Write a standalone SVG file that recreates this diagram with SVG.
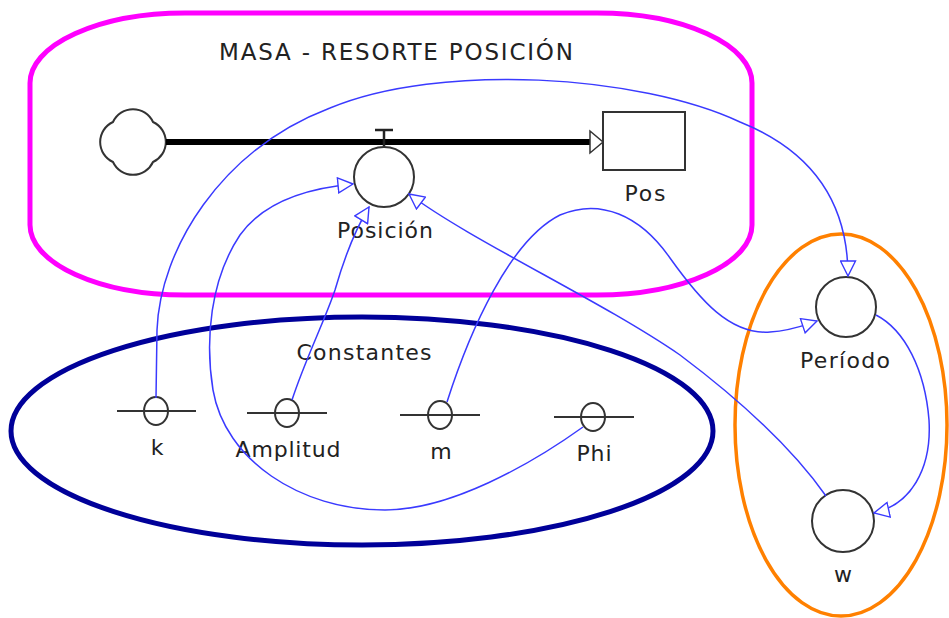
<svg xmlns="http://www.w3.org/2000/svg" width="949" height="618" viewBox="0 0 949 618">
<style>
.lbl{font-family:"DejaVu Sans","Liberation Sans",sans-serif;font-size:22px;fill:#222;text-anchor:middle}
.node{fill:#fff;stroke:#333;stroke-width:2}
.cst{fill:none;stroke:#333;stroke-width:2}
.link{fill:none;stroke:#3a3aff;stroke-width:1.5;marker-end:url(#arr)}
</style>
<defs>
<marker id="arr" markerUnits="userSpaceOnUse" markerWidth="17" markerHeight="17" viewBox="-1 -1 17 17" refX="15" refY="7.5" orient="auto">
<path d="M0,0 L15,7.5 L0,15 Z" fill="#fff" stroke="#3a3aff" stroke-width="1.4"/>
</marker>
</defs>
<g id="group-masa">
<rect x="30" y="13" width="722" height="282" rx="155" ry="70" fill="none" stroke="#ff00ff" stroke-width="5"/>
<text class="lbl" x="396" y="60" style="font-size:23px" textLength="354" lengthAdjust="spacing">MASA - RESORTE POSICIÓN</text>
</g>
<g id="group-constantes">
<ellipse cx="362" cy="431" rx="351" ry="114" fill="none" stroke="#000099" stroke-width="5"/>
<text class="lbl" x="364" y="360" textLength="135" lengthAdjust="spacing">Constantes</text>
</g>
<g id="group-periodo">
<ellipse cx="841" cy="425" rx="106" ry="191" fill="none" stroke="#ff8000" stroke-width="3.5"/>
</g>
<g id="cloud">
<path d="M113,122 A22,22 0 0 1 153,122 A22,22 0 0 1 153,162 A22,22 0 0 1 113,162 A22,22 0 0 1 113,122 Z" fill="#fff" stroke="#333" stroke-width="2"/>
</g>
<g id="flow-posicion">
<line x1="166" y1="142" x2="590" y2="142" stroke="#000" stroke-width="6"/>
<path d="M590,131 L603,142 L590,153 Z" fill="#fff" stroke="#333" stroke-width="1.5"/>
<line x1="384" y1="130" x2="384" y2="148" stroke="#222" stroke-width="2.5"/>
<line x1="375" y1="130" x2="393" y2="130" stroke="#222" stroke-width="2.5"/>
<circle class="node" cx="384" cy="177" r="30"/>
<text class="lbl" x="385" y="238" textLength="96" lengthAdjust="spacing">Posición</text>
</g>
<g id="stock-pos">
<rect class="node" x="603" y="112" width="82" height="58"/>
<text class="lbl" x="645" y="201" textLength="41" lengthAdjust="spacing">Pos</text>
</g>
<g id="const-k">
<line class="cst" x1="117" y1="411" x2="196" y2="411"/>
<ellipse class="cst" cx="156" cy="411" rx="12" ry="14"/>
<text class="lbl" x="157" y="455">k</text>
</g>
<g id="const-amplitud">
<line class="cst" x1="247" y1="413" x2="327" y2="413"/>
<ellipse class="cst" cx="287" cy="413" rx="12" ry="14"/>
<text class="lbl" x="288" y="457" textLength="105" lengthAdjust="spacing">Amplitud</text>
</g>
<g id="const-m">
<line class="cst" x1="400" y1="415" x2="480" y2="415"/>
<ellipse class="cst" cx="440" cy="415" rx="12" ry="14"/>
<text class="lbl" x="441" y="459">m</text>
</g>
<g id="const-phi">
<line class="cst" x1="554" y1="417" x2="634" y2="417"/>
<ellipse class="cst" cx="593" cy="417" rx="12" ry="14"/>
<text class="lbl" x="594" y="461" textLength="35" lengthAdjust="spacing">Phi</text>
</g>
<g id="aux-periodo">
<circle class="node" cx="846" cy="307" r="30"/>
<text class="lbl" x="845" y="368" textLength="90" lengthAdjust="spacing">Período</text>
</g>
<g id="aux-w">
<circle class="node" cx="843" cy="521" r="31"/>
<text class="lbl" x="843" y="582">w</text>
</g>
<g id="connectors">
<path class="link" d="M156,398 L157,330 C160,250 220,150 330,108 C440,62 640,75 740,122 C810,150 848,200 848,276"/>
<path class="link" d="M292,400 C305,360 325,320 335,290 C343,262 355,230 369,207"/>
<path class="link" d="M583,427 C530,465 450,510 385,510 C300,510 225,460 213,390 C205,340 210,280 240,235 C265,200 310,188 353,184"/>
<path class="link" d="M447,402 C470,330 510,240 560,215 C600,198 640,215 670,258 C700,300 730,335 770,332 C790,331 805,325 817,321"/>
<path class="link" d="M826,496 C790,445 740,400 680,355 C600,300 470,240 409,194"/>
<path class="link" d="M876,315 C905,330 925,370 929,420 C932,470 910,505 874,513"/>
</g>
</svg>
